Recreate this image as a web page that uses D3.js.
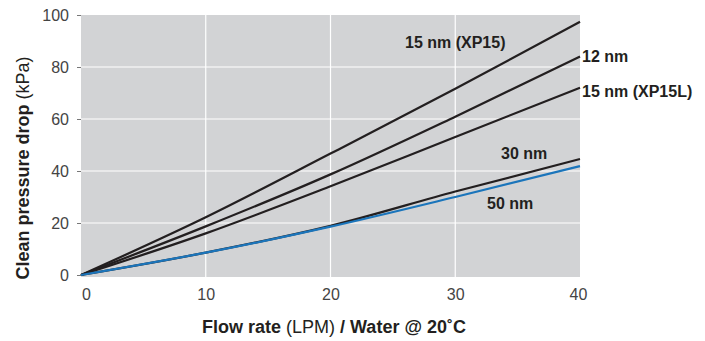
<!DOCTYPE html>
<html>
<head>
<meta charset="utf-8">
<script src="https://cdn.jsdelivr.net/npm/d3@7"></script>
<style>
  body { margin: 0; background: #fff; }
  svg { display: block; font-family: "Liberation Sans", Arial, sans-serif; }
</style>
</head>
<body>
<svg id="chart" width="705" height="341"></svg>
<script>
const flow = [0, 10, 20, 30, 40];
const xp15 = [0, 22.2, 46.7, 71.6, 97.4];
const nm12 = [0, 18.7, 38.7, 60.9, 84.0];
const xp15l = [0, 16.0, 34.1, 53.1, 72.0];
const nm30 = [0, 8.6, 18.9, 32.1, 44.6];
const nm50 = [0, 8.6, 18.6, 30.0, 41.9];
const xTicks = [0, 10, 20, 30, 40];
const yTicks = [0, 20, 40, 60, 80, 100];
const seriesNames = ['15 nm (XP15)', '12 nm', '15 nm (XP15L)', '30 nm', '50 nm'];

const series = [
  { name: seriesNames[0], values: xp15, color: '#231f20' },
  { name: seriesNames[1], values: nm12, color: '#231f20' },
  { name: seriesNames[2], values: xp15l, color: '#231f20' },
  { name: seriesNames[3], values: nm30, color: '#231f20' },
  { name: seriesNames[4], values: nm50, color: '#1b75bb' }
];

const x = d3.scaleLinear().domain([0, 40]).range([81, 580]);
const y = d3.scaleLinear().domain([0, 100]).range([275, 15]);

const svg = d3.select('#chart');

// plot background
svg.append('rect')
  .attr('x', x(0))
  .attr('y', y(100))
  .attr('width', x(40) - x(0))
  .attr('height', 277 - y(100))
  .attr('fill', '#d2d3d5');

// white grid
svg.append('g')
  .selectAll('line.v')
  .data(xTicks.slice(1, -1))
  .enter()
  .append('line')
  .attr('x1', (d) => x(d)).attr('x2', (d) => x(d))
  .attr('y1', y(100)).attr('y2', 277)
  .attr('stroke', '#fff').attr('stroke-width', 1.2);

svg.append('g')
  .selectAll('line.h')
  .data(yTicks.slice(1, -1))
  .enter()
  .append('line')
  .attr('x1', x(0)).attr('x2', x(40))
  .attr('y1', (d) => y(d)).attr('y2', (d) => y(d))
  .attr('stroke', '#fff').attr('stroke-width', 1.2);

// y axis
const yAxis = svg.append('g')
  .attr('transform', `translate(${x(0)},0)`)
  .call(d3.axisLeft(y).tickValues(yTicks).tickSize(4).tickPadding(8));
yAxis.select('.domain').remove();
yAxis.selectAll('line').attr('stroke', '#777');
yAxis.selectAll('text')
  .attr('font-size', 16)
  .attr('fill', '#444')
  .attr('font-family', '"Liberation Sans", Arial, sans-serif');

// x axis
const xAxis = svg.append('g')
  .attr('transform', 'translate(0,285)')
  .call(d3.axisBottom(x).tickValues(xTicks).tickSize(0).tickPadding(4));
xAxis.select('.domain').remove();
xAxis.selectAll('text')
  .attr('font-size', 16)
  .attr('fill', '#444')
  .attr('font-family', '"Liberation Sans", Arial, sans-serif')
  .attr('dx', (d) => d === 0 ? 5 : (d === 40 ? -2 : 0));

// lines
const line = d3.line()
  .x((d, i) => x(flow[i]))
  .y((d) => y(d))
  .curve(d3.curveMonotoneX);

svg.append('g')
  .selectAll('path')
  .data(series)
  .enter()
  .append('path')
  .attr('d', (s) => line(s.values))
  .attr('fill', 'none')
  .attr('stroke', (s) => s.color)
  .attr('stroke-width', 2.2);

// series labels
const labels = [
  { text: seriesNames[0], x: 405, y: 48 },
  { text: seriesNames[1], x: 582, y: 62 },
  { text: seriesNames[2], x: 582, y: 97 },
  { text: seriesNames[3], x: 501, y: 159 },
  { text: seriesNames[4], x: 487, y: 209 }
];
svg.append('g')
  .selectAll('text')
  .data(labels)
  .enter()
  .append('text')
  .attr('x', (d) => d.x)
  .attr('y', (d) => d.y)
  .attr('font-size', 16)
  .attr('font-weight', 'bold')
  .attr('fill', '#231f20')
  .text((d) => d.text);

// axis titles
const xTitle = svg.append('text')
  .attr('x', 334)
  .attr('y', 333)
  .attr('text-anchor', 'middle')
  .attr('font-size', 18)
  .attr('fill', '#231f20');
xTitle.append('tspan').attr('font-weight', 'bold').text('Flow rate ');
xTitle.append('tspan').text('(LPM) ');
xTitle.append('tspan').attr('font-weight', 'bold').text('/ Water @ 20˚C');

const yTitle = svg.append('text')
  .attr('transform', 'translate(29,168) rotate(-90)')
  .attr('text-anchor', 'middle')
  .attr('font-size', 18)
  .attr('fill', '#231f20');
yTitle.append('tspan').attr('font-weight', 'bold').text('Clean pressure drop ');
yTitle.append('tspan').text('(kPa)');
</script>
</body>
</html>
